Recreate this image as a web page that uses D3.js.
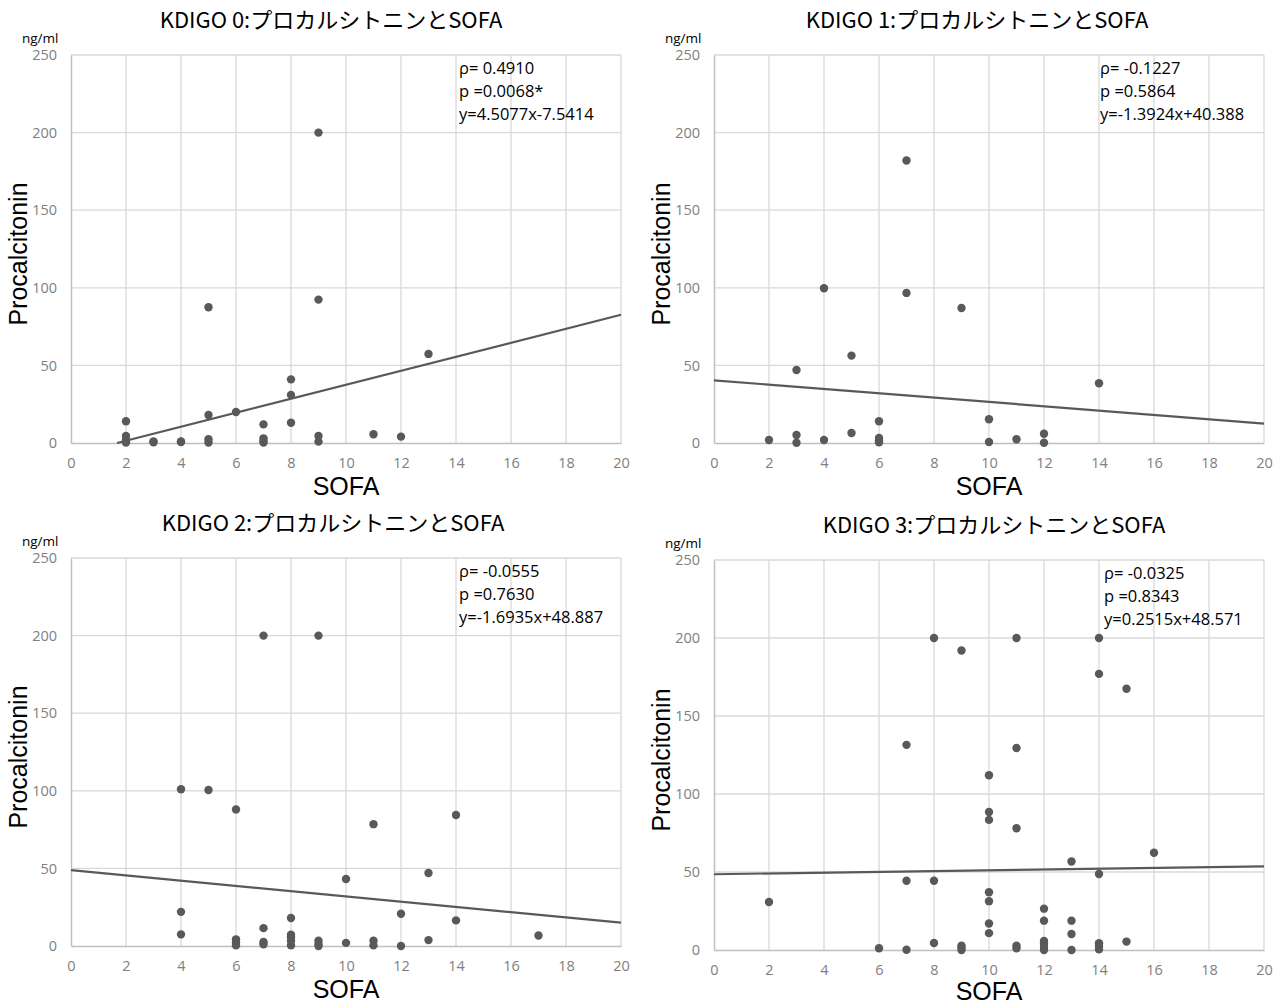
<!DOCTYPE html>
<html>
<head>
<meta charset="utf-8">
<script src="https://cdn.jsdelivr.net/npm/d3@7"></script>
<style>
  body { margin: 0; background: #fff; }
  svg text { font-family: "Liberation Sans", Arial, sans-serif; }
</style>
</head>
<body>
<svg id="chart" width="1284" height="1004"></svg>
<script>
// KDIGO 0
var sofa0 = [2, 2, 2, 2, 3, 3, 4, 4, 5, 5, 5, 5, 6, 7, 7, 7, 7, 8, 8, 8, 9, 9, 9, 9, 11, 12, 13]
var pct0  = [14, 4.5, 2, 0.3, 0.5, 1, 1, 0.6, 87.5, 18, 2.4, 0.3, 20, 12, 3, 1.3, 0.3, 41, 31, 13, 200, 92.4, 4.5, 0.9, 5.6, 4.1, 57.4]
// KDIGO 1
var sofa1 = [2, 3, 3, 3, 4, 4, 5, 5, 6, 6, 6, 6, 7, 7, 9, 10, 10, 11, 12, 12, 14]
var pct1  = [1.9, 47, 5.2, 0.2, 99.7, 1.9, 56.3, 6.4, 14, 3.2, 1.7, 0.4, 182, 96.7, 87, 15.3, 0.6, 2.4, 6, 0.2, 38.5]
// KDIGO 2
var sofa2 = [4, 4, 4, 5, 6, 6, 6, 6, 7, 7, 7, 7, 8, 8, 8, 8, 8, 9, 9, 9, 9, 10, 10, 11, 11, 11, 12, 12, 13, 13, 14, 14, 17]
var pct2  = [101, 22, 7.5, 100.5, 88, 4.3, 2.2, 0.4, 200, 11.5, 2.6, 1.1, 18, 7.3, 5.6, 3.2, 0.4, 200, 3.4, 1.3, 0, 43.2, 2, 78.5, 3.4, 0.4, 20.8, 0, 47, 3.8, 84.4, 16.5, 6.8]
// KDIGO 3
var sofa3 = [2, 6, 7, 7, 7, 8, 8, 8, 9, 9, 9, 9, 10, 10, 10, 10, 10, 10, 10, 11, 11, 11, 11, 11, 12, 12, 12, 12, 12, 12, 13, 13, 13, 13, 14, 14, 14, 14, 14, 14, 15, 15, 16]
var pct3  = [30.8, 1.1, 131.5, 44.4, 0.2, 200, 44.4, 4.5, 192, 2.8, 1.5, 0, 112, 88.5, 83.4, 37, 31.3, 17, 10.8, 200, 129.5, 78, 2.8, 1.1, 26.5, 18.8, 5.8, 4.1, 1.9, 0, 56.7, 18.8, 10.3, 0, 200, 177, 48.7, 4.3, 2.6, 0.4, 167.5, 5.4, 62.3]

var titles = ["KDIGO 0:プロカルシトニンとSOFA", "KDIGO 1:プロカルシトニンとSOFA", "KDIGO 2:プロカルシトニンとSOFA", "KDIGO 3:プロカルシトニンとSOFA"]
var slopes = [4.5077, -1.3924, -1.6935, 0.2515]
var intercepts = [-7.5414, 40.388, 48.887, 48.571]
var statText = [
  ["ρ= 0.4910", "p =0.0068*", "y=4.5077x-7.5414"],
  ["ρ= -0.1227", "p =0.5864", "y=-1.3924x+40.388"],
  ["ρ= -0.0555", "p =0.7630", "y=-1.6935x+48.887"],
  ["ρ= -0.0325", "p =0.8343", "y=0.2515x+48.571"]
]
var xTicks = d3.range(0, 21, 2)
var yTicks = [0, 50, 100, 150, 200, 250]

var allSofa = [sofa0, sofa1, sofa2, sofa3]
var allPct = [pct0, pct1, pct2, pct3]

// plot frames: left, top, height, title centre, stats x, axis-title offset
var frames = [
  {left: 71, top: 55, h: 388, titleX: 331, statX: 388, sofaY: 52},
  {left: 714, top: 55, h: 388, titleX: 977, statX: 386, sofaY: 52},
  {left: 71, top: 558, h: 388, titleX: 333, statX: 388, sofaY: 52},
  {left: 714, top: 560, h: 390, titleX: 994, statX: 390, sofaY: 50}
]
var plotW = 550

var svg = d3.select("#chart")

function drawPanel(i) {
  var f = frames[i]
  var g = svg.append("g").attr("transform", `translate(${f.left},${f.top})`)

  var x = d3.scaleLinear().domain([0, 20]).range([0, plotW])
  var y = d3.scaleLinear().domain([0, 250]).range([f.h, 0])

  // gridlines
  g.selectAll("line.vgrid")
    .data(xTicks.filter(d => d > 0))
    .enter().append("line")
      .attr("x1", d => x(d)).attr("x2", d => x(d))
      .attr("y1", 0).attr("y2", f.h)
      .attr("stroke", "#d9d9d9").attr("stroke-width", 1.3)
  g.selectAll("line.hgrid")
    .data(yTicks.filter(d => d > 0))
    .enter().append("line")
      .attr("x1", 0).attr("x2", plotW)
      .attr("y1", d => y(d)).attr("y2", d => y(d))
      .attr("stroke", "#d9d9d9").attr("stroke-width", 1.3)

  // axes
  var xAxis = g.append("g")
    .attr("transform", `translate(0,${f.h})`)
    .call(d3.axisBottom(x).tickValues(xTicks).tickSize(0).tickPadding(15))
  var yAxis = g.append("g")
    .call(d3.axisLeft(y).tickValues(yTicks).tickSize(0).tickPadding(14))
  xAxis.select(".domain").attr("stroke", "#bfbfbf").attr("stroke-width", 1.5)
  yAxis.select(".domain").attr("stroke", "#bfbfbf").attr("stroke-width", 1.5)
  g.selectAll(".tick text")
    .attr("fill", "#808080")
    .style("font-family", "'Open Sans', sans-serif")
    .style("font-size", "14.5px")

  // trend line, clipped at y=0
  var x0 = 0
  if (intercepts[i] < 0) x0 = -intercepts[i] / slopes[i]
  var lineData = [x0, 20].map(v => ({sofa: v, pct: slopes[i] * v + intercepts[i]}))
  g.append("path")
    .datum(lineData)
    .attr("fill", "none")
    .attr("stroke", "#595959")
    .attr("stroke-width", 2.2)
    .attr("d", d3.line().x(d => x(d.sofa)).y(d => y(d.pct)))

  // points
  var pts = allSofa[i].map((s, k) => ({sofa: s, pct: allPct[i][k]}))
  g.selectAll("circle")
    .data(pts)
    .enter().append("circle")
      .attr("cx", d => x(d.sofa))
      .attr("cy", d => y(d.pct))
      .attr("r", 4.2)
      .attr("fill", "#595959")

  // stats box
  g.selectAll("text.stat")
    .data(statText[i])
    .enter().append("text")
      .attr("x", f.statX)
      .attr("y", (d, k) => 19 + k * 23)
      .attr("fill", "#000")
      .style("font-family", "'Open Sans', sans-serif")
      .style("font-size", "16.5px")
      .text(d => d)

  // title
  svg.append("text")
    .attr("x", f.titleX)
    .attr("y", f.top - 27)
    .attr("text-anchor", "middle")
    .style("font-family", "'Noto Sans CJK JP', sans-serif")
    .style("font-size", "22px")
    .attr("fill", "#000")
    .text(titles[i])

  // unit label
  svg.append("text")
    .attr("x", f.left - 49)
    .attr("y", f.top - 12)
    .style("font-family", "'Open Sans', sans-serif")
    .style("font-size", "13.5px")
    .attr("fill", "#000")
    .text("ng/ml")

  // axis titles
  svg.append("text")
    .attr("x", f.left + plotW / 2)
    .attr("y", f.top + f.h + f.sofaY)
    .attr("text-anchor", "middle")
    .style("font-size", "25px")
    .attr("fill", "#000")
    .text("SOFA")
  svg.append("text")
    .attr("transform", `translate(${f.left - 44},${f.top + f.h / 2 + 5}) rotate(-90)`)
    .attr("text-anchor", "middle")
    .style("font-size", "25px")
    .attr("fill", "#000")
    .text("Procalcitonin")
}

for (var i = 0; i < 4; i++) drawPanel(i)
</script>
</body>
</html>
